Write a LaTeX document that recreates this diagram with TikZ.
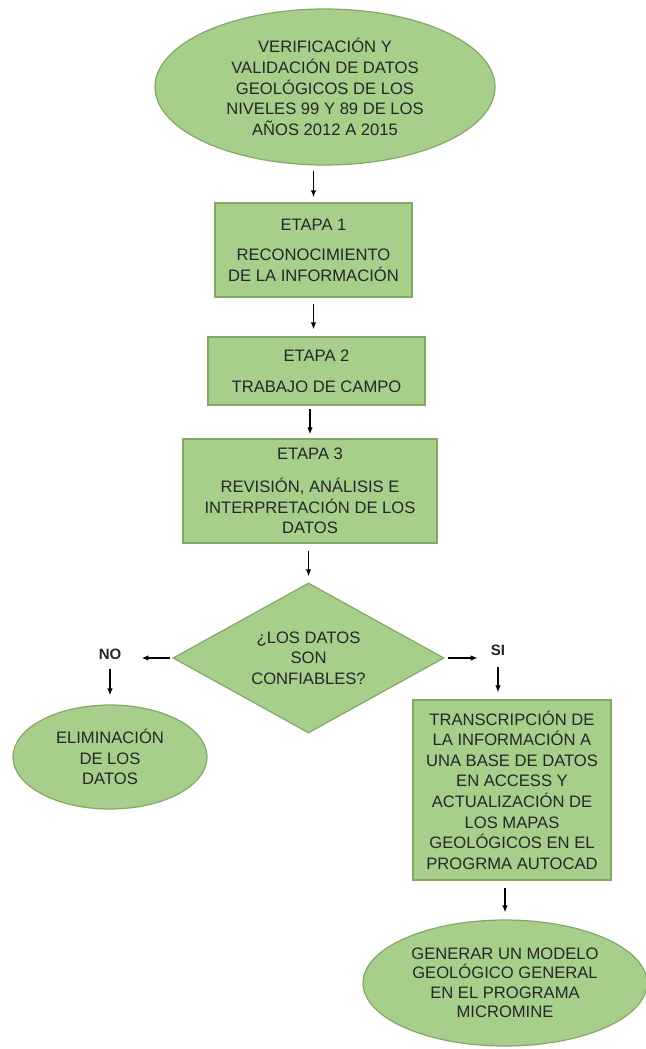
\documentclass[tikz,border=0pt]{standalone}
\usepackage{fontspec}
\setmainfont{Liberation Sans}
\usetikzlibrary{shapes.geometric,arrows.meta,calc}
\definecolor{gfill}{HTML}{A8CE8C}
\definecolor{gdraw}{HTML}{82A866}
\definecolor{txt}{HTML}{262626}
\begin{document}
\begin{tikzpicture}[x=1pt,y=-1pt,
  base/.style={fill=gfill,draw=gdraw,line width=1.2pt,text=txt,align=center,
    font=\fontsize{16.6}{20.6}\selectfont,inner sep=0pt},
  boxn/.style={base,rectangle},
  ell/.style={base,ellipse},
  dia/.style={base,diamond},
  lbl/.style={font=\fontsize{15}{18}\selectfont\bfseries,text=txt,inner sep=0pt},
  arr/.style={line width=1.4pt,-{Latex[length=7pt,width=5.5pt]}}]
\useasboundingbox (0,0) rectangle (645,1049);

\node[ell,minimum width=340pt,minimum height=156pt] (e1) at (325,87)
  {VERIFICACIÓN Y\\VALIDACIÓN DE DATOS\\GEOLÓGICOS DE LOS\\NIVELES 99 Y 89 DE LOS\\AÑOS 2012 A 2015};
\node[boxn,minimum width=197pt,minimum height=94pt] (b1) at (313.5,250)
  {ETAPA 1\\[10pt]RECONOCIMIENTO\\DE LA INFORMACIÓN};
\node[boxn,minimum width=217pt,minimum height=68pt] (b2) at (316.5,371)
  {ETAPA 2\\[10pt]TRABAJO DE CAMPO};
\node[boxn,minimum width=254pt,minimum height=104pt] (b3) at (310,491)
  {ETAPA 3\\[12pt]REVISIÓN, ANÁLISIS E\\INTERPRETACIÓN DE LOS\\DATOS};
\node[dia,aspect=1.8,minimum width=271pt,minimum height=150pt] (d) at (308.5,658)
  {¿LOS DATOS\\SON\\CONFIABLES?};
\node[lbl] (no) at (110,654) {NO};
\node[lbl] (si) at (498,650) {SI};
\node[ell,minimum width=194pt,minimum height=104pt] (el) at (110,757)
  {ELIMINACIÓN\\DE LOS\\DATOS};
\node[boxn,minimum width=198pt,minimum height=180pt] (t) at (512,790)
  {TRANSCRIPCIÓN DE\\LA INFORMACIÓN A\\UNA BASE DE DATOS\\EN ACCESS Y\\ACTUALIZACIÓN DE\\LOS MAPAS\\GEOLÓGICOS EN EL\\PROGRMA AUTOCAD};
\node[ell,minimum width=284pt,minimum height=126pt,font=\fontsize{16.6}{19.5}\selectfont] (e3) at (505,983)
  {GENERAR UN MODELO\\GEOLÓGICO GENERAL\\EN EL PROGRAMA\\MICROMINE};

\draw[arr,shorten <=5pt,shorten >=5pt] (b1.north |- e1.south) -- (b1.north);
\draw[arr,shorten <=6pt,shorten >=7pt] (b1.south) -- (b1.south |- b2.north);
\draw[arr,shorten <=3pt,shorten >=4pt] (b3.north |- b2.south) -- (b3.north);
\draw[arr,shorten <=7pt,shorten >=6pt] (d.north |- b3.south) -- (d.north);
\draw[arr,shorten <=2pt,shorten >=20pt] (d.west) -- (d.west -| no.east);
\draw[arr,shorten <=3pt,shorten >=13pt] (d.east) -- (d.east -| si.west);
\draw[arr,shorten <=9pt,shorten >=9pt] (no.south) -- (no.south |- el.north);
\draw[arr,shorten <=11pt,shorten >=7pt] (si.south) -- (si.south |- t.north);
\draw[arr,shorten <=7pt,shorten >=7pt] (e3.north |- t.south) -- (e3.north);
\end{tikzpicture}
\end{document}
